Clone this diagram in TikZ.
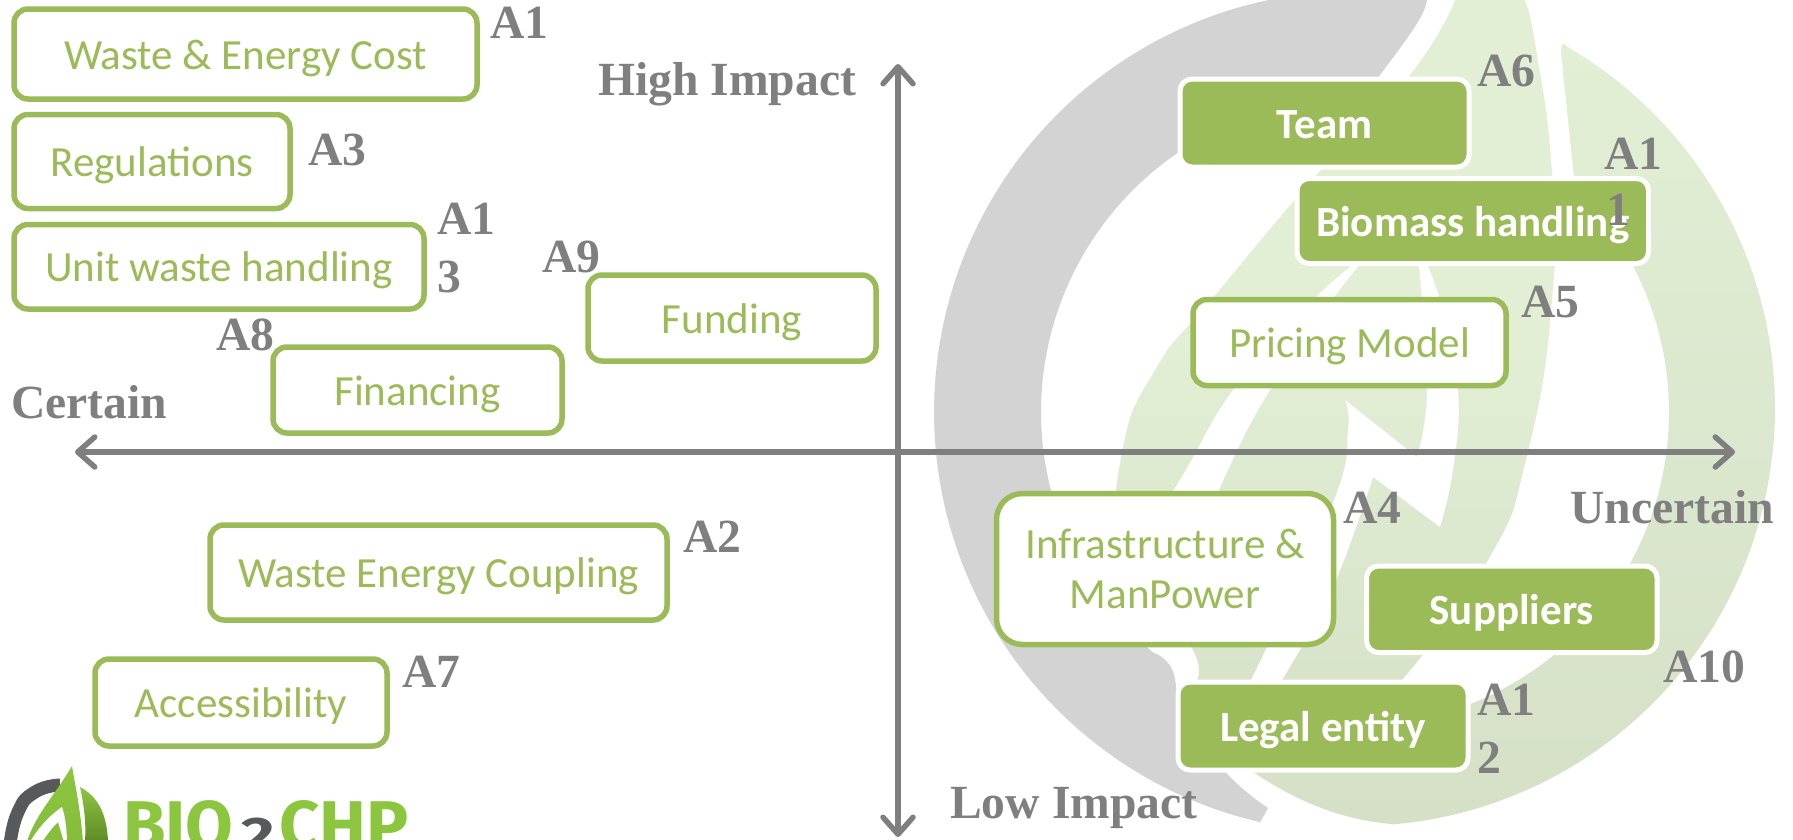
\documentclass[tikz,border=0pt]{standalone}
\usepackage{fontspec}
\setmainfont{Carlito}
\newfontfamily\labfont{Liberation Serif}
\newfontfamily\logofont{Fira Sans}
\usetikzlibrary{arrows.meta}
\definecolor{boxgreen}{HTML}{9BBB59}
\definecolor{labgray}{HTML}{7F7F7F}
\definecolor{swoosh}{HTML}{D3D3D3}
\definecolor{leaftop}{HTML}{E2EFD5}
\definecolor{leafbot}{HTML}{D5E0C7}
\definecolor{logogreen}{HTML}{8CC63F}
\definecolor{logodark}{HTML}{5F8A27}
\definecolor{logogray}{HTML}{58595B}
\tikzset{
  wh/.style 2 args={minimum width=#1pt,minimum height=#2pt},
  oneline/.style={text height=30pt,text depth=0pt},
  outlinebox/.style={draw=boxgreen,line width=5.5pt,fill=white,rounded corners=14pt,inner sep=0pt,
    text=boxgreen,align=center,font=\fontsize{43}{50}\selectfont},
  solidbox/.style={draw=white,line width=5pt,fill=boxgreen,rounded corners=12pt,inner sep=0pt,
    text=white,align=center,font=\fontsize{43}{50}\bfseries\selectfont},
  lab/.style={anchor=base west,inner sep=0pt,text=labgray,font=\fontsize{47.6}{50}\labfont\bfseries\selectfont},
  axisline/.style={draw=labgray,line width=5.5pt,{Straight Barb[length=17pt,width=30pt,round]}-{Straight Barb[length=17pt,width=30pt,round]}},
  logotext/.style={anchor=base west,inner sep=0pt,font=\fontsize{69}{70}\logofont\bfseries\selectfont}
}
\begin{document}
\begin{tikzpicture}[x=1pt,y=-1pt]
\useasboundingbox (0,0) rectangle (1793,839);
% background emblem
\fill[swoosh] plot[domain=103:268,samples=55,smooth] ({1355+421*cos(\x)},{412+421*sin(\x)})
  -- (1429,-9) -- (1427,0) .. controls (1425,15) and (1410,35) .. (1380,75) -- (1340,130)
  -- plot[domain=236:130,samples=40,smooth] ({1355+314*cos(\x)},{412+314*sin(\x)})
  .. controls (1168,658) and (1176,670) .. (1176,690) .. controls (1180,725) and (1225,780) .. (1268,808) -- cycle;
\shade[top color=leaftop,bottom color=leafbot!80!leaftop,middle color=leaftop] plot[smooth,tension=0.9] coordinates {(1455,0) (1410,75) (1321,170) (1217,293) (1155,370) (1122,453) (1122,540) (1155,600) (1193,650) (1197,680)}
  -- plot[smooth,tension=0.9] coordinates {(1402,680) (1487,562) (1527,455) (1552,300) (1552,173) (1535,43) (1524,0)} -- cycle;
\shade[top color=leaftop,bottom color=leafbot] (1561,50) .. controls (1561,60) and (1563,65) .. (1563,73) -- (1574,177)
  -- plot[domain=-47:68,samples=40,smooth] ({1355+314*cos(\x)},{412+314*sin(\x)})
  -- (1400,725) -- (1253,772)
  .. controls (1295,800) and (1340,820) .. (1392,824)
  -- plot[domain=85:-60,samples=50,smooth] ({1357+418*cos(\x)},{408+418*sin(\x)})
  .. controls (1566,42) and (1560,44) .. (1561,50) -- cycle;
\fill[white] plot[smooth,tension=0.7] coordinates {(1372,250) (1332,300) (1270,390) (1228,470) (1190,560) (1150,640)}
  -- (1100,600) -- plot[smooth,tension=0.7] coordinates {(1100,600) (1175,488) (1233,390) (1313,300) (1372,250)} -- cycle;
\fill[white] plot[smooth,tension=0.7] coordinates {(1251,680) (1333,503) (1348,430) (1345,400)}
  -- (1417,457) -- plot[smooth,tension=0.7] coordinates {(1417,457) (1427,390) (1419,267) (1412,230)}
  -- plot[smooth,tension=0.7] coordinates {(1412,230) (1440,300) (1458,390) (1453,470) (1440,527)}
  -- (1373,477) -- plot[smooth,tension=0.7] coordinates {(1373,477) (1333,587) (1282,680)} -- cycle;
% logo
\draw[logogray,line width=13pt] plot[smooth,tension=0.9] coordinates {(60,785) (35,792) (18,812) (10,845)};
\shade[top color=logogreen,bottom color=logogreen!85!logodark] (72,766) .. controls (75,785) and (80,805) .. (83,842) -- (27,842) .. controls (35,815) and (55,795) .. (72,766) -- cycle;
\fill[white] (62,807) .. controls (50,815) and (38,828) .. (30,842) -- (42,842) .. controls (50,830) and (55,825) .. (58,822) -- (64,842) -- (67,842) .. controls (67,830) and (65,815) .. (62,807) -- cycle;
\shade[top color=logogreen,bottom color=logodark] (80,787) .. controls (95,795) and (107,810) .. (108,842) -- (85,842) .. controls (86,825) and (85,810) .. (80,787) -- cycle;
\node[logotext,text=logogreen] (logobio) at (123,849) {BIO};
\node[logotext,text=logogray,font=\fontsize{50}{50}\logofont\bfseries\selectfont] (logotwo) at (241,852) {\scalebox{1.3}[1]{2}};
\node[logotext,text=logogreen] (logochp) at (279,849) {\scalebox{1.02}[1]{CHP}};
% axes
\coordinate (axl) at (75,452);
\coordinate (axr) at (1735,452);
\coordinate (axt) at (898,64);
\coordinate (axb) at (898,837);
\draw[axisline] (axl) -- (axr);
\draw[axisline] (axt) -- (axb);
% boxes
\node[outlinebox,oneline,wh={463}{90}] (b1) at (245.5,54) {Waste \& Energy Cost};
\node[outlinebox,oneline,wh={276}{94}] (b3) at (152,161.5) {Regulations};
\node[outlinebox,oneline,wh={410}{84.5}] (b13) at (219,266.75) {Unit waste handling};
\node[outlinebox,oneline,wh={288}{86}] (b9) at (732,318) {Funding};
\node[outlinebox,oneline,wh={289}{86}] (b8) at (417.5,390) {Financing};
\node[outlinebox,oneline,wh={457}{95}] (b2) at (438.5,572.5) {Waste Energy Coupling};
\node[outlinebox,oneline,wh={292}{87}] (b7) at (241,702.5) {Accessibility};
\node[outlinebox,oneline,wh={313}{86}] (b5) at (1349.5,342.5) {Pricing Model};
\node[outlinebox,rounded corners=26pt,wh={337}{151}] (b4) at (1165,569) {Infrastructure \&\\ManPower};
\node[solidbox,oneline,wh={289}{88}] (b6) at (1324.5,123) {Team};
\node[solidbox,oneline,wh={351.5}{85}] (b11) at (1472.75,221) {Biomass handling};
\node[solidbox,oneline,wh={290.5}{86.5}] (b10) at (1511.75,609.25) {Suppliers};
\node[solidbox,oneline,wh={290}{88}] (b12) at (1323,726) {Legal entity};
% labels
\node[lab] (la1) at (490,38) {A1};
\node[lab] (lhigh) at (598,95) {High Impact};
\node[lab] (la3) at (308,165) {A3};
\node[lab] (la13a) at (437,234) {A1};
\node[lab] (la13b) at (437,292) {3};
\node[lab] (la9) at (542,272) {A9};
\node[lab] (la8) at (216,350) {A8};
\node[lab] (lcert) at (11,418) {Certain};
\node[lab] (la2) at (683,552) {A2};
\node[lab] (la7) at (402,687) {A7};
\node[lab] (llow) at (950,818) {Low Impact};
\node[lab] (la6) at (1477,86) {A6};
\node[lab] (la11a) at (1604,169) {A1};
\node[lab] (la11b) at (1606,225) {1};
\node[lab] (la5) at (1521,317) {A5};
\node[lab] (la4) at (1343,523) {A4};
\node[lab] (lunc) at (1570,523) {Uncertain};
\node[lab] (la10) at (1663,682) {A10};
\node[lab] (la12a) at (1477,715) {A1};
\node[lab] (la12b) at (1477,773) {2};
\end{tikzpicture}
\end{document}
